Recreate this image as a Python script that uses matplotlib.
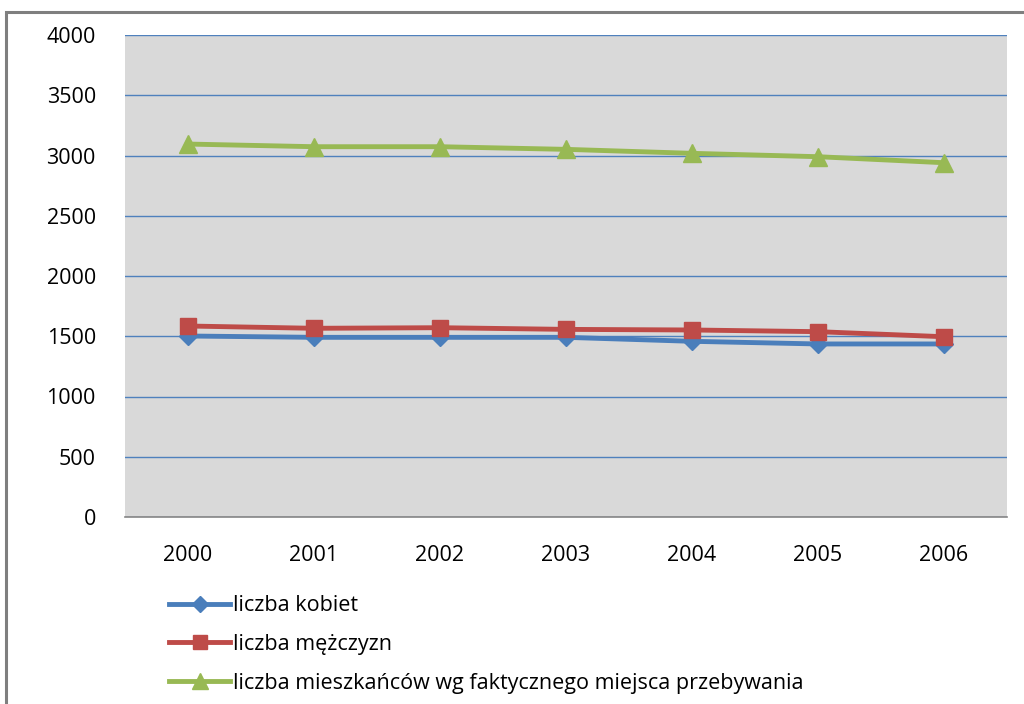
import matplotlib
matplotlib.use("Agg")
import matplotlib.pyplot as plt
from matplotlib.patches import Rectangle
from matplotlib.lines import Line2D

plt.rcParams['font.family'] = ['Open Sans', 'DejaVu Sans']

# Data
years = ['2000', '2001', '2002', '2003', '2004', '2005', '2006']
kobiety = [1502, 1491, 1491, 1491, 1458, 1436, 1436]
mezczyzni = [1585, 1566, 1571, 1557, 1552, 1538, 1496]
mieszkancy = [3095, 3073, 3073, 3051, 3018, 2990, 2940]
labels = ['liczba kobiet', 'liczba mężczyzn',
          'liczba mieszkańców wg faktycznego miejsca przebywania']
yticks = [0, 500, 1000, 1500, 2000, 2500, 3000, 3500, 4000]

fig = plt.figure(figsize=(10.24, 7.04), dpi=100)
fig.patch.set_facecolor('white')

# Outer chart frame (extends past the right and bottom edges)
fig.patches.append(Rectangle((6 / 1024, -0.05), 1.1, 1 - 12 / 704 + 0.05,
                             transform=fig.transFigure, fill=False,
                             edgecolor='#7f7f7f', linewidth=2.2))

ax = fig.add_axes([125 / 1024, 1 - 517 / 704, 882 / 1024, 482 / 704])
ax.set_facecolor('#d9d9d9')

x = list(range(len(years)))
series = [
    (kobiety, '#4a7ebb', 'D', 9),
    (mezczyzni, '#be4b48', 's', 12),
    (mieszkancy, '#98b954', '^', 13),
]
for vals, col, mk, ms in series:
    ax.plot(x, vals, color=col, marker=mk, markersize=ms, linewidth=3.5,
            solid_capstyle='round', zorder=3)

ax.set_xlim(-0.5, len(years) - 0.5)
ax.set_ylim(0, 4000)
ax.set_yticks(yticks)
ax.set_yticklabels([str(v) for v in yticks])
ax.set_xticks(x)
ax.set_xticklabels(years)
ax.yaxis.grid(True, color='#4f81bd', linewidth=1.0)
ax.set_axisbelow(True)
ax.tick_params(axis='both', length=0, labelsize=15.5, colors='black')
ax.tick_params(axis='y', pad=21)
ax.tick_params(axis='x', pad=20)
for s in ['left', 'right', 'top']:
    ax.spines[s].set_visible(False)
ax.spines['bottom'].set_color('#868686')
ax.spines['bottom'].set_linewidth(1.2)

handles = [Line2D([0], [0], color=c, marker=m, markersize=ms, linewidth=3.5)
           for _, c, m, ms in series]
fig.legend(handles, labels, loc='upper left',
           bbox_to_anchor=(150 / 1024, 1 - 576 / 704), frameon=False,
           fontsize=15.5, handlelength=2.8, handletextpad=0.15,
           labelspacing=0.82, markerscale=0.85)

fig.savefig('out.png', dpi=100, facecolor='white')
